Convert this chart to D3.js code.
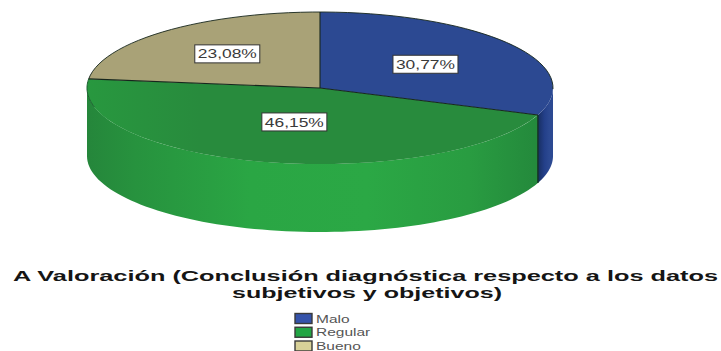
<!DOCTYPE html>
<html lang="es">
<head>
<meta charset="utf-8">
<script src="https://cdn.jsdelivr.net/npm/d3@7"></script>
<style>
  html, body { margin: 0; padding: 0; background: #fff; }
  svg { display: block; }
  text { font-family: "Liberation Sans", Arial, sans-serif; }
</style>
</head>
<body>
<svg id="chart" width="721" height="351"></svg>
<script>
const categories = ["Malo", "Regular", "Bueno"];
const percentages = [30.77, 46.15, 23.08];
const percentLabels = ["30,77%", "46,15%", "23,08%"];
const titleLines = [
  "A Valoración (Conclusión diagnóstica respecto a los datos",
  "subjetivos y objetivos)"
];
const topColors = ["#2c4992", "url(#topGreen)", "#a9a277"];
const legendColors = ["#3553aa", "#22a544", "#d8d198"];
const labelRadii = [0.55, 0.46, 0.6];

const cx = 320, cy = 88, rx = 233, ry = 76, depth = 68;

const svg = d3.select("#chart");
const defs = svg.append("defs");

// Horizontal shading that gives the pie wall its rounded look
const wallGradient = (id, stops) => {
  const g = defs.append("linearGradient").attr("id", id)
    .attr("gradientUnits", "userSpaceOnUse")
    .attr("x1", cx - rx).attr("x2", cx + rx).attr("y1", 0).attr("y2", 0);
  stops.forEach(([o, c]) => g.append("stop").attr("offset", o).attr("stop-color", c));
};
wallGradient("wallGreen", [
  [0, "#25863b"], [0.1, "#27923e"], [0.35, "#2aa644"], [0.6, "#2ba845"],
  [0.82, "#299c41"], [0.96, "#248a3c"], [1, "#248a3c"]
]);
wallGradient("wallBlue", [
  [0, "#182f63"], [0.968, "#182f63"], [0.982, "#24408a"], [0.992, "#2c4992"], [1, "#2c4992"]
]);

// The green face is a touch brighter towards the far left
const topGreen = defs.append("linearGradient").attr("id", "topGreen")
  .attr("x1", 0).attr("x2", 1).attr("y1", 0).attr("y2", 0);
[[0, "#28983f"], [0.25, "#288b3d"], [1, "#288b3d"]].forEach(([o, c]) =>
  topGreen.append("stop").attr("offset", o).attr("stop-color", c));

const pie = d3.pie().sort(null).value(d => d);
const slices = pie(percentages);

// Point on the rim of the tilted disc for a pie angle
const rimX = a => cx + rx * Math.sin(a);
const rimY = a => cy - ry * Math.cos(a);

// Front wall: rim samples from a0 to a1 on top, and back again lower down
const wallPath = (a0, a1) => {
  const steps = d3.scaleLinear().domain([0, 80]).range([a0, a1]);
  const angles = d3.range(0, 81).map(steps);
  const line = d3.line();
  const upper = angles.map(a => [rimX(a), rimY(a)]);
  const lower = angles.slice().reverse().map(a => [rimX(a), rimY(a) + depth]);
  return line(upper.concat(lower)) + "Z";
};

const halfPi = Math.PI / 2;
const walls = svg.append("g");
// Only the part of each slice facing the viewer has a visible wall
slices.forEach((s, i) => {
  const a0 = Math.max(s.startAngle, halfPi);
  const a1 = Math.min(s.endAngle, 3 * halfPi);
  if (a1 <= a0) return;
  walls.append("path")
    .attr("d", wallPath(a0, a1))
    .attr("fill", i === 0 ? "url(#wallBlue)" : "url(#wallGreen)");
});

// Top face: unit-radius arcs squeezed into the tilted ellipse
const arc = d3.arc().innerRadius(0).outerRadius(1);
const disc = svg.append("g")
  .attr("transform", `translate(${cx},${cy}) scale(${rx},${ry})`);
disc.selectAll("path").data(slices).join("path")
  .attr("d", arc)
  .attr("fill", (d, i) => topColors[i]);

// Dark outline along the back rim and the slice edges
const edges = svg.append("g")
  .attr("fill", "none").attr("stroke", "#16261c").attr("stroke-width", 1.1);
slices.forEach(s => {
  edges.append("path").attr("d", d3.line()([
    [cx, cy], [rimX(s.startAngle), rimY(s.startAngle)]
  ]));
});
const backArc = d3.scaleLinear().domain([0, 60]).range([slices[2].startAngle, slices[0].endAngle * 0.82 + 2 * Math.PI]);
edges.append("path")
  .attr("stroke-width", 0.9)
  .attr("d", d3.line()(d3.range(0, 61).map(backArc).map(a => [rimX(a), rimY(a)])));

// Seam between the blue and green walls
const seam = slices[0].endAngle;
edges.append("path").attr("stroke", "#14331f").attr("stroke-width", 1.4)
  .attr("d", d3.line()([[rimX(seam), rimY(seam)], [rimX(seam), rimY(seam) + depth]]));

// Small shadow where the wall meets the disc on the far left
const leftCurve = d3.scaleLinear().domain([0, 20]).range([slices[2].startAngle, 1.42 * Math.PI]);
edges.append("path").attr("stroke", "#1c5f30").attr("stroke-width", 1)
  .attr("d", d3.line()(d3.range(0, 21).map(leftCurve).map(a => [rimX(a), rimY(a)])));

// Percentage tags in white boxes
const tags = svg.append("g");
slices.forEach((s, i) => {
  const mid = (s.startAngle + s.endAngle) / 2;
  const x = cx + labelRadii[i] * rx * Math.sin(mid);
  const y = cy - labelRadii[i] * ry * Math.cos(mid);
  tags.append("rect")
    .attr("x", x - 32.5).attr("y", y - 9)
    .attr("width", 65).attr("height", 18)
    .attr("fill", "#fff").attr("stroke", "#333").attr("stroke-width", 1);
  tags.append("text")
    .attr("x", x).attr("y", y + 4.6)
    .attr("text-anchor", "middle")
    .attr("font-size", 13)
    .attr("textLength", 59).attr("lengthAdjust", "spacingAndGlyphs")
    .attr("fill", "#3a3a3a")
    .text(percentLabels[i]);
});

// Two-line title, wide bold lettering
const title = svg.append("g").attr("font-weight", "bold").attr("fill", "#151515").attr("font-size", 15.5);
title.append("text").attr("x", 13).attr("y", 281)
  .attr("textLength", 705).attr("lengthAdjust", "spacingAndGlyphs").text(titleLines[0]);
title.append("text").attr("x", 232).attr("y", 298)
  .attr("textLength", 270).attr("lengthAdjust", "spacingAndGlyphs").text(titleLines[1]);

// Legend: wide swatches with stretched labels
const rowY = d3.scalePoint().domain(categories).range([318.5, 346]);
const legend = svg.append("g");
categories.forEach((c, i) => {
  legend.append("rect")
    .attr("x", 295).attr("y", rowY(c) - 5)
    .attr("width", 17).attr("height", 10)
    .attr("fill", legendColors[i]).attr("stroke", "#3a3a3a").attr("stroke-width", 1.4);
  legend.append("text")
    .attr("transform", `translate(316,${rowY(c) + 4}) scale(1.55,1)`)
    .attr("font-size", 10).attr("fill", "#555").text(c);
});
</script>
</body>
</html>
